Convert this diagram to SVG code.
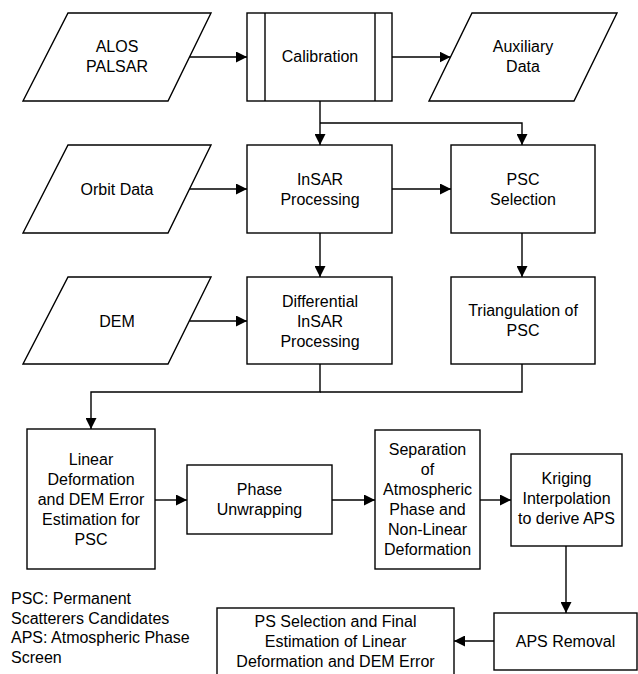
<svg xmlns="http://www.w3.org/2000/svg" width="638" height="674" viewBox="0 0 638 674">
<style>
.s{fill:#fff;stroke:#000;stroke-width:1.4}
.l{fill:none;stroke:#000;stroke-width:1.4}
text{font-family:"Liberation Sans",Arial,sans-serif;font-size:16px;fill:#000;text-anchor:middle}
.lg{text-anchor:start}
</style>
<defs>
<marker id="a" markerUnits="userSpaceOnUse" markerWidth="11" markerHeight="11" viewBox="0 0 11 11" refX="11" refY="5.5" orient="auto">
<path d="M0,0 L11,5.5 L0,11 z" fill="#000"/>
</marker>
</defs>
<rect width="638" height="674" fill="#fff"/>
<g id="connectors" class="l">
<path class="l" d="M189.5,57 H247" marker-end="url(#a)"/>
<path class="l" d="M392,57 H450.5" marker-end="url(#a)"/>
<path class="l" d="M320,101 V145" marker-end="url(#a)"/>
<path class="l" d="M320,123 H522 V145" marker-end="url(#a)"/>
<path class="l" d="M189.5,189 H247" marker-end="url(#a)"/>
<path class="l" d="M392,189 H451" marker-end="url(#a)"/>
<path class="l" d="M320,233 V277" marker-end="url(#a)"/>
<path class="l" d="M522,233 V277" marker-end="url(#a)"/>
<path class="l" d="M189.5,321 H247" marker-end="url(#a)"/>
<path class="l" d="M320,364 V392 H91 V429" marker-end="url(#a)"/>
<path class="l" d="M522,364 V392 H320"/>
<path class="l" d="M155,500 H187" marker-end="url(#a)"/>
<path class="l" d="M332,500 H375" marker-end="url(#a)"/>
<path class="l" d="M480,500 H511" marker-end="url(#a)"/>
<path class="l" d="M566,546 V613" marker-end="url(#a)"/>
<path class="l" d="M494,641 H454" marker-end="url(#a)"/>
</g>
<g id="alos">
<polygon class="s" points="68,13 211,13 168,101 23,101"/>
<text x="117" y="52">ALOS</text>
<text x="117" y="72">PALSAR</text>
</g>
<g id="calibration">
<rect class="s" x="247" y="13" width="145" height="88"/>
<path class="l" d="M265,13 V101 M375,13 V101"/>
<text x="320" y="62">Calibration</text>
</g>
<g id="auxiliary">
<polygon class="s" points="472,13 617,13 574,101 429,101"/>
<text x="523" y="52">Auxiliary</text>
<text x="523" y="72">Data</text>
</g>
<g id="orbit">
<polygon class="s" points="68,145 211,145 168,233 23,233"/>
<text x="117" y="195">Orbit Data</text>
</g>
<g id="insar">
<rect class="s" x="247" y="145" width="145" height="88"/>
<text x="320" y="185">InSAR</text>
<text x="320" y="205">Processing</text>
</g>
<g id="psc-selection">
<rect class="s" x="451" y="145" width="144" height="88"/>
<text x="523" y="185">PSC</text>
<text x="523" y="205">Selection</text>
</g>
<g id="dem">
<polygon class="s" points="68,277 211,277 168,364 23,364"/>
<text x="117" y="327">DEM</text>
</g>
<g id="dinsar">
<rect class="s" x="247" y="277" width="145" height="87"/>
<text x="320" y="307">Differential</text>
<text x="320" y="327">InSAR</text>
<text x="320" y="347">Processing</text>
</g>
<g id="triangulation">
<rect class="s" x="451" y="277" width="144" height="87"/>
<text x="523" y="316">Triangulation of</text>
<text x="523" y="336">PSC</text>
</g>
<g id="linear">
<rect class="s" x="27" y="429" width="128" height="140"/>
<text x="91" y="465">Linear</text>
<text x="91" y="485">Deformation</text>
<text x="91" y="505">and DEM Error</text>
<text x="91" y="525">Estimation for</text>
<text x="91" y="545">PSC</text>
</g>
<g id="phase">
<rect class="s" x="187" y="465" width="145" height="69"/>
<text x="259.5" y="495">Phase</text>
<text x="259.5" y="515">Unwrapping</text>
</g>
<g id="separation">
<rect class="s" x="375" y="430" width="105" height="139"/>
<text x="427.5" y="455">Separation</text>
<text x="427.5" y="475">of</text>
<text x="427.5" y="495">Atmospheric</text>
<text x="427.5" y="515">Phase and</text>
<text x="427.5" y="535">Non-Linear</text>
<text x="427.5" y="555">Deformation</text>
</g>
<g id="kriging">
<rect class="s" x="511" y="454" width="111" height="92"/>
<text x="566.5" y="484">Kriging</text>
<text x="566.5" y="504">Interpolation</text>
<text x="566.5" y="524">to derive APS</text>
</g>
<g id="aps-removal">
<rect class="s" x="494" y="613" width="143" height="57"/>
<text x="565.5" y="647">APS Removal</text>
</g>
<g id="ps-selection">
<rect class="s" x="217" y="608" width="237" height="72"/>
<text x="335.5" y="627">PS Selection and Final</text>
<text x="335.5" y="647">Estimation of Linear</text>
<text x="335.5" y="667">Deformation and DEM Error</text>
</g>
<g id="legend">
<text class="lg" x="11" y="604">PSC: Permanent</text>
<text class="lg" x="11" y="624">Scatterers Candidates</text>
<text class="lg" x="11" y="643">APS: Atmospheric Phase</text>
<text class="lg" x="11" y="663">Screen</text>
</g>
</svg>
